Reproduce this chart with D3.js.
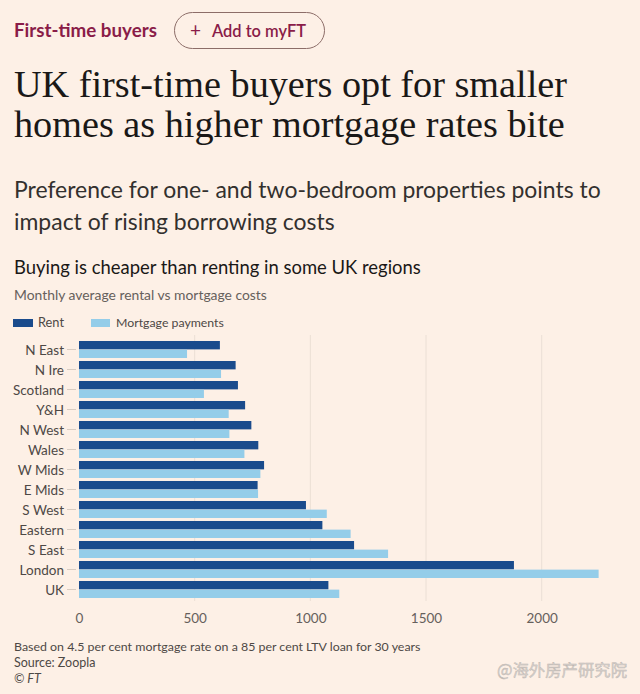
<!DOCTYPE html>
<html>
<head>
<meta charset="utf-8">
<script src="https://cdn.jsdelivr.net/npm/d3@7"></script>
<style>
  html, body { margin: 0; padding: 0; background: #fdf0e6; }
  svg { display: block; }
</style>
</head>
<body>
<svg id="chart" width="640" height="694"></svg>
<script>
const categories = ["N East", "N Ire", "Scotland", "Y&H", "N West", "Wales", "W Mids", "E Mids", "S West", "Eastern", "S East", "London", "UK"];
const rent =      [609, 677, 687, 718, 745, 775, 800, 772, 981, 1052, 1189, 1880, 1078];
const mortgage =  [467, 614, 540, 647, 650, 715, 784, 774, 1071, 1174, 1336, 2246, 1125];
const seriesNames = ["Rent", "Mortgage payments"];
const xTicks = [0, 500, 1000, 1500, 2000];

const colors = { rent: "#1a4b8c", mortgage: "#94cde9" };
const sans = "Lato, 'Open Sans', sans-serif";
const serif = "'Liberation Serif', 'DejaVu Serif', serif";

const svg = d3.select("#chart");
svg.append("rect").attr("width", 640).attr("height", 694).attr("fill", "#fdf0e6");

// fit text to a target width by adjusting font size
function fitText(sel, width) {
  const node = sel.node();
  const fs = parseFloat(sel.attr("font-size"));
  const w = node.getComputedTextLength();
  if (w > 0) sel.attr("font-size", (fs * width / w).toFixed(2));
  return sel;
}
function text(x, y, str, opts) {
  const t = svg.append("text").attr("x", x).attr("y", y).text(str)
    .attr("font-family", opts.family || sans)
    .attr("font-size", opts.size)
    .attr("font-weight", opts.weight || 400)
    .attr("fill", opts.fill || "#33302e");
  if (opts.style) t.attr("font-style", opts.style);
  if (opts.anchor) t.attr("text-anchor", opts.anchor);
  if (opts.width) fitText(t, opts.width);
  return t;
}

// Header
const claret = "#8a1c48";
text(14, 37, "First-time buyers", { size: 17, weight: 700, fill: claret, width: 143 });
svg.append("rect").attr("x", 174.5).attr("y", 12.5).attr("width", 150).attr("height", 36)
  .attr("rx", 18).attr("fill", "none").attr("stroke", "#8c6d68").attr("stroke-width", 1);
text(190, 37, "+", { size: 19, weight: 400, fill: claret });
text(212, 37, "Add to myFT", { size: 16, weight: 600, fill: claret, width: 94 });

// Title
const t1 = text(14, 97, "UK first-time buyers opt for smaller", { size: 38, family: serif, fill: "#1a1817", width: 553 });
text(14, 137, "homes as higher mortgage rates bite", { size: +t1.attr("font-size"), family: serif, fill: "#1a1817" });

// Standfirst
const s1 = text(14, 198, "Preference for one- and two-bedroom properties points to", { size: 22, fill: "#33302e", width: 587 });
text(14, 230, "impact of rising borrowing costs", { size: +s1.attr("font-size"), fill: "#33302e" });

// Chart title & subtitle
text(14, 274, "Buying is cheaper than renting in some UK regions", { size: 17, fill: "#1a1817", width: 407 });
text(14, 300, "Monthly average rental vs mortgage costs", { size: 13, fill: "#66605c", width: 253 });

// Legend
const legend = svg.append("g");
const legendItems = [
  { name: seriesNames[0], color: colors.rent, sx: 13, sw: 20, tx: 38 },
  { name: seriesNames[1], color: colors.mortgage, sx: 91, sw: 19, tx: 116 }
];
legendItems.forEach(d => {
  legend.append("rect").attr("x", d.sx).attr("y", 319).attr("width", d.sw).attr("height", 8).attr("fill", d.color);
});
text(38, 327, seriesNames[0], { size: 12.5, fill: "#4d4845", width: 26 });
text(116, 327, seriesNames[1], { size: 12.5, fill: "#4d4845", width: 108 });

// Scales
const x = d3.scaleLinear().domain([0, 2000]).range([79, 541.7]);
const y = d3.scaleBand().domain(categories).range([339.5, 599.5]).paddingInner(0.15).paddingOuter(0.075);
const sub = d3.scaleBand().domain(["rent", "mortgage"]).range([0, y.bandwidth()]).paddingInner(0.03);

// Gridlines
svg.append("g").selectAll("line").data(xTicks.filter(d => d > 0)).join("line")
  .attr("x1", d => x(d)).attr("x2", d => x(d))
  .attr("y1", 335).attr("y2", 601)
  .attr("stroke", "#ebdfd5").attr("stroke-width", 1);

// Bars
const rows = categories.map((c, i) => ({ cat: c, rent: rent[i], mortgage: mortgage[i] }));
const g = svg.append("g");
["rent", "mortgage"].forEach(key => {
  g.selectAll("rect." + key).data(rows).join("rect")
    .attr("class", key)
    .attr("x", x(0))
    .attr("y", d => y(d.cat) + sub(key))
    .attr("width", d => x(d[key]) - x(0))
    .attr("height", sub.bandwidth())
    .attr("fill", colors[key]);
});

// Y axis
const yAxis = svg.append("g").attr("transform", `translate(${x(0) - 3},0)`)
  .call(d3.axisLeft(y).tickSize(9).tickPadding(3));
yAxis.select(".domain").remove();
yAxis.selectAll(".tick line").attr("stroke", "#d8ccc2");
yAxis.selectAll(".tick text").attr("font-family", sans).attr("font-size", 13.5)
  .attr("fill", "#4d4845").attr("dy", "0.38em");

// X axis
const xAxis = svg.append("g").attr("transform", `translate(0,604)`)
  .call(d3.axisBottom(x).tickValues(xTicks).tickSize(0).tickPadding(9).tickFormat(d3.format("d")));
xAxis.select(".domain").remove();
xAxis.selectAll(".tick text").attr("font-family", sans).attr("font-size", 13.5).attr("fill", "#66605c");

// Footer
text(14, 651, "Based on 4.5 per cent mortgage rate on a 85 per cent LTV loan for 30 years", { size: 12.5, fill: "#4d4845", width: 407 });
text(14, 667, "Source: Zoopla", { size: 12.5, fill: "#4d4845" });
text(14, 683, "© FT", { size: 12.5, fill: "#4d4845", style: "italic" });

// Watermark
text(497, 676, "@海外房产研究院", { size: 16, family: "'Noto Sans CJK SC', sans-serif", fill: "#d6d0cc", width: 130 })
  .attr("stroke", "#bdb6b1").attr("stroke-width", 0.4);
</script>
</body>
</html>
